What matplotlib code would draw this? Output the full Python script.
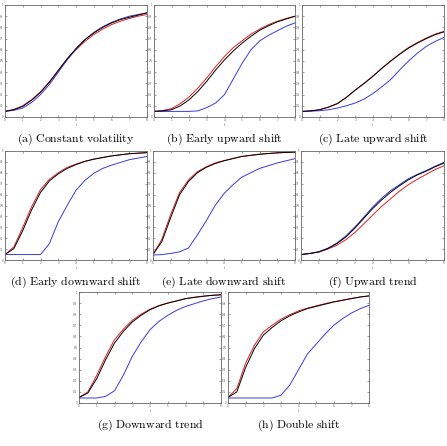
import numpy as np
import matplotlib
matplotlib.use("Agg")
import matplotlib.pyplot as plt

plt.rcParams["mathtext.fontset"] = "cm"

# time grid (step 0.5)
t = [0, 0.5, 1, 1.5, 2, 2.5, 3, 3.5, 4, 4.5, 5, 5.5, 6, 6.5, 7, 7.5, 8]

# (a) constant volatility
black_a = [0.05, 0.065, 0.095, 0.15, 0.22, 0.31, 0.415, 0.52, 0.61, 0.69, 0.75, 0.80, 0.84, 0.87, 0.89, 0.91, 0.93]
red_a = [0.05, 0.068, 0.10, 0.155, 0.225, 0.315, 0.415, 0.515, 0.60, 0.675, 0.735, 0.785, 0.825, 0.855, 0.88, 0.90, 0.915]
blue_a = [0.05, 0.06, 0.08, 0.13, 0.20, 0.29, 0.40, 0.51, 0.61, 0.69, 0.755, 0.805, 0.845, 0.875, 0.90, 0.915, 0.93]

# (b) early upward shift
black_b = [0.05, 0.055, 0.065, 0.10, 0.155, 0.23, 0.32, 0.42, 0.51, 0.59, 0.66, 0.72, 0.775, 0.815, 0.85, 0.875, 0.90]
red_b = [0.05, 0.058, 0.075, 0.12, 0.18, 0.26, 0.35, 0.45, 0.54, 0.62, 0.68, 0.74, 0.785, 0.825, 0.855, 0.88, 0.90]
blue_b = [0.05, 0.05, 0.05, 0.05, 0.05, 0.055, 0.085, 0.125, 0.20, 0.34, 0.48, 0.60, 0.68, 0.73, 0.77, 0.81, 0.84]

# (c) late upward shift
black_c = [0.05, 0.055, 0.065, 0.088, 0.12, 0.175, 0.24, 0.30, 0.365, 0.435, 0.50, 0.56, 0.615, 0.66, 0.70, 0.735, 0.76]
red_c = [0.05, 0.055, 0.066, 0.089, 0.121, 0.176, 0.241, 0.30, 0.365, 0.435, 0.50, 0.563, 0.62, 0.665, 0.705, 0.74, 0.765]
blue_c = [0.05, 0.052, 0.056, 0.065, 0.08, 0.10, 0.125, 0.16, 0.21, 0.27, 0.335, 0.42, 0.50, 0.57, 0.63, 0.675, 0.71]

# (d) early downward shift
black_d = [0.05, 0.105, 0.27, 0.46, 0.62, 0.725, 0.79, 0.84, 0.875, 0.905, 0.925, 0.94, 0.955, 0.965, 0.975, 0.98, 0.985]
red_d = [0.05, 0.12, 0.30, 0.49, 0.645, 0.74, 0.80, 0.85, 0.88, 0.905, 0.925, 0.94, 0.955, 0.965, 0.975, 0.98, 0.985]
blue_d = [0.05, 0.05, 0.05, 0.05, 0.05, 0.15, 0.35, 0.50, 0.64, 0.73, 0.795, 0.84, 0.87, 0.895, 0.92, 0.935, 0.95]

# (e) late downward shift
black_e = [0.05, 0.17, 0.39, 0.60, 0.72, 0.80, 0.85, 0.885, 0.91, 0.93, 0.95, 0.96, 0.97, 0.977, 0.983, 0.987, 0.99]
red_e = [0.05, 0.19, 0.42, 0.62, 0.735, 0.81, 0.855, 0.89, 0.912, 0.932, 0.95, 0.96, 0.97, 0.977, 0.983, 0.987, 0.99]
blue_e = [0.045, 0.05, 0.06, 0.075, 0.11, 0.23, 0.36, 0.50, 0.61, 0.69, 0.76, 0.80, 0.84, 0.865, 0.89, 0.91, 0.93]

# (f) upward trend
black_f = [0.05, 0.06, 0.075, 0.105, 0.15, 0.21, 0.29, 0.38, 0.47, 0.55, 0.62, 0.68, 0.735, 0.78, 0.815, 0.855, 0.89]
red_f = [0.05, 0.06, 0.073, 0.10, 0.135, 0.185, 0.25, 0.33, 0.41, 0.49, 0.56, 0.63, 0.69, 0.74, 0.785, 0.83, 0.865]
blue_f = [0.05, 0.06, 0.076, 0.108, 0.155, 0.22, 0.30, 0.39, 0.485, 0.565, 0.635, 0.69, 0.745, 0.785, 0.82, 0.86, 0.895]

# (g) downward trend
black_g = [0.05, 0.09, 0.22, 0.39, 0.54, 0.645, 0.73, 0.79, 0.84, 0.875, 0.90, 0.92, 0.94, 0.952, 0.962, 0.97, 0.975]
red_g = [0.05, 0.10, 0.25, 0.42, 0.57, 0.665, 0.745, 0.80, 0.845, 0.878, 0.90, 0.92, 0.94, 0.952, 0.962, 0.97, 0.975]
blue_g = [0.045, 0.045, 0.045, 0.06, 0.11, 0.25, 0.42, 0.55, 0.66, 0.735, 0.79, 0.835, 0.87, 0.895, 0.92, 0.94, 0.955]

# (h) double shift
black_h = [0.05, 0.10, 0.32, 0.49, 0.61, 0.68, 0.74, 0.785, 0.82, 0.85, 0.87, 0.89, 0.91, 0.925, 0.94, 0.955, 0.965]
red_h = [0.05, 0.13, 0.36, 0.52, 0.64, 0.70, 0.755, 0.795, 0.83, 0.855, 0.875, 0.895, 0.912, 0.927, 0.942, 0.955, 0.965]
blue_h = [0.045, 0.045, 0.045, 0.045, 0.045, 0.045, 0.07, 0.16, 0.30, 0.44, 0.53, 0.62, 0.70, 0.76, 0.81, 0.85, 0.88]

captions = ["(a) Constant volatility", "(b) Early upward shift", "(c) Late upward shift",
            "(d) Early downward shift", "(e) Late downward shift", "(f) Upward trend",
            "(g) Downward trend", "(h) Double shift"]
series = [(black_a, red_a, blue_a), (black_b, red_b, blue_b), (black_c, red_c, blue_c),
          (black_d, red_d, blue_d), (black_e, red_e, blue_e), (black_f, red_f, blue_f),
          (black_g, red_g, blue_g), (black_h, red_h, blue_h)]

W, H = 447, 446
# axes boxes in pixels: left, top, right, bottom
boxes = [(5, 5, 147, 117), (154, 5, 295, 117), (302, 5, 444, 117),
         (5, 151, 147, 260), (153, 151, 295, 260), (301, 151, 444, 260),
         (79, 292, 221, 403), (228, 292, 369, 403)]
cap_y = [139, 139, 139, 282, 282, 282, 425, 425]

fig = plt.figure(figsize=(W / 100, H / 100), dpi=100)

for (l, tp, r, b), cap, cy, (bk, rd, bl) in zip(boxes, captions, cap_y, series):
    ax = fig.add_axes([l / W, 1 - b / H, (r - l) / W, (b - tp) / H])
    ax.plot(t, rd, color="#e02020", lw=0.7)
    ax.plot(t, bl, color="#3a3ae0", lw=0.7)
    ax.plot(t, bk, color="black", lw=0.7)
    ax.set_xlim(0, 8)
    ax.set_ylim(0, 1)
    ax.set_xticks(range(9))
    ax.set_yticks(np.arange(0, 1.01, 0.1))
    ax.set_yticklabels(["0", "0.1", "0.2", "0.3", "0.4", "0.5", "0.6", "0.7", "0.8", "0.9", "1"])
    ax.tick_params(direction="in", top=True, right=True, length=1.5, width=0.4,
                   labelsize=2, pad=1, colors="#555555")
    ax.set_xlabel("t", fontsize=2, labelpad=0.5, color="#555555")
    for s in ax.spines.values():
        s.set_linewidth(0.6)
        s.set_color("#666666")
    fig.text((l + r) / 2 / W, 1 - cy / H, r"$\mathrm{" + cap.replace(" ", r"\ ") + "}$",
             ha="center", va="center", fontsize=8.5)

# figure caption, cut off by the bottom edge as in the reference
fig.text(12 / W, 1 - 450 / H,
         r"$\mathrm{Figure\ 4:\ Liquidation\ boundary\ in\ each\ scenario:\ EB\ versus\ EB\ with\ fixed\ volatility}$",
         ha="left", va="center", fontsize=8.5)

fig.savefig("out.png", dpi=100)
